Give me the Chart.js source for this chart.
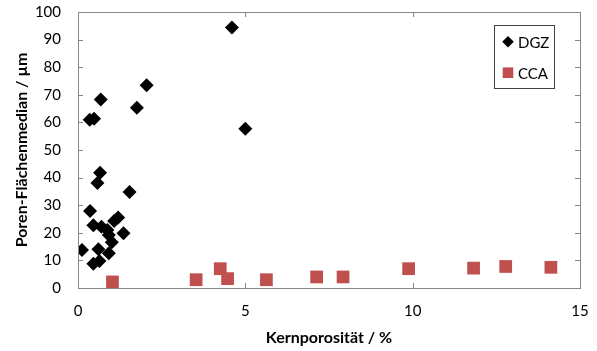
<!DOCTYPE html>
<html>
<head>
<meta charset="utf-8">
<script src="https://cdn.jsdelivr.net/npm/chart.js@4"></script>
<style>
  html, body { margin: 0; padding: 0; background: #fff; }
  #wrap { width: 597px; height: 351px; }
</style>
</head>
<body>
<div id="wrap"><canvas id="chart" width="597" height="351"></canvas></div>
<script>
// Kernporosität (%) / Poren-Flächenmedian (µm)
const dgzX = [4.6, 2.05, 0.68, 1.76, 0.35, 0.48, 5.0, 0.66, 0.58, 1.54, 0.36, 1.2, 1.08, 0.46, 0.7, 0.88, 0.92, 1.36, 1.01, 0.12, 0.61, 0.92, 0.46, 0.64];
const dgzY = [94.4, 73.5, 68.3, 65.3, 61.0, 61.3, 57.7, 41.8, 38.0, 34.8, 27.9, 25.5, 24.3, 22.7, 22.2, 21.0, 19.2, 19.8, 16.6, 13.8, 14.0, 12.6, 8.8, 9.8];
const ccaX = [1.03, 3.53, 4.25, 4.47, 5.63, 7.13, 7.92, 9.88, 11.82, 12.78, 14.13];
const ccaY = [2.2, 3.0, 7.0, 3.4, 3.0, 4.0, 4.0, 7.0, 7.2, 7.8, 7.5];

const xTicks = [0, 5, 10, 15];
const yTicks = [0, 10, 20, 30, 40, 50, 60, 70, 80, 90, 100];

const FONT = 'Lato, "Open Sans", sans-serif';
const AXIS_GRAY = '#868686';

function toPoints(xs, ys) {
  return xs.map((x, i) => ({ x: x, y: ys[i] }));
}

// Rahmen mit Innenstrichen + Legende im Diagramm
const framePlugin = {
  id: 'frame',
  afterDraw(chart) {
    const ctx = chart.ctx;
    const a = chart.chartArea;
    const sx = chart.scales.x, sy = chart.scales.y;
    ctx.save();
    ctx.strokeStyle = AXIS_GRAY;
    ctx.lineWidth = 1;
    ctx.strokeRect(Math.round(a.left) + 0.5, Math.round(a.top) + 0.5,
      Math.round(a.right - a.left), Math.round(a.bottom - a.top));
    ctx.beginPath();
    const t = 5;
    yTicks.forEach(v => {
      const py = Math.round(sy.getPixelForValue(v)) + 0.5;
      ctx.moveTo(a.left, py); ctx.lineTo(a.left + t, py);
      ctx.moveTo(a.right, py); ctx.lineTo(a.right - t, py);
    });
    xTicks.forEach(v => {
      const px = Math.round(sx.getPixelForValue(v)) + 0.5;
      ctx.moveTo(px, a.bottom); ctx.lineTo(px, a.bottom - t);
      ctx.moveTo(px, a.top); ctx.lineTo(px, a.top + t);
    });
    ctx.stroke();

    // Legende
    const bx = 494.5, by = 25.5, bw = 60, bh = 63;
    ctx.fillStyle = '#fff';
    ctx.fillRect(bx, by, bw, bh);
    ctx.strokeStyle = '#404040';
    ctx.strokeRect(bx, by, bw, bh);
    const items = chart.data.datasets;
    const rows = [41.7, 72.7];
    ctx.font = '15px ' + FONT;
    ctx.textBaseline = 'middle';
    ctx.textAlign = 'left';
    items.forEach((ds, i) => {
      ctx.fillStyle = ds.backgroundColor;
      ctx.strokeStyle = ds.backgroundColor;
      Chart.helpers.drawPoint(ctx, {
        pointStyle: ds.pointStyle,
        radius: ds.pointStyle === 'rect' ? 7.5 : 5.8,
        rotation: 0,
        borderWidth: 0
      }, 508, rows[i]);
      ctx.fillStyle = '#000';
      ctx.fillText(ds.label, 518, rows[i] + 1);
    });
    ctx.restore();
  }
};

new Chart(document.getElementById('chart'), {
  type: 'scatter',
  data: {
    datasets: [
      {
        label: 'DGZ',
        data: toPoints(dgzX, dgzY),
        pointStyle: 'rectRot',
        pointRadius: 7,
        pointHoverRadius: 7,
        backgroundColor: '#000000',
        borderColor: '#000000',
        borderWidth: 0
      },
      {
        label: 'CCA',
        data: toPoints(ccaX, ccaY),
        pointStyle: 'rect',
        pointRadius: 9,
        pointHoverRadius: 9,
        backgroundColor: '#C0504D',
        borderColor: '#C0504D',
        borderWidth: 0
      }
    ]
  },
  options: {
    responsive: false,
    animation: false,
    layout: { padding: { left: 10, right: 17, top: 12, bottom: 0 } },
    plugins: {
      legend: { display: false },
      tooltip: { enabled: false }
    },
    scales: {
      x: {
        type: 'linear',
        min: 0, max: 15,
        afterBuildTicks(scale) { scale.ticks = xTicks.map(v => ({ value: v })); },
        afterFit(scale) { scale.height = 63; },
        grid: { display: true, drawOnChartArea: false, drawTicks: true, tickLength: 12, tickColor: 'rgba(0,0,0,0)' },
        border: { display: false },
        ticks: { color: '#000', font: { family: FONT, size: 15 }, padding: 2 },
        title: {
          display: true,
          text: 'Kernporosität / %',
          color: '#000',
          font: { family: FONT, size: 16, weight: 'bold' },
          padding: { top: 5 }
        }
      },
      y: {
        type: 'linear',
        min: 0, max: 100,
        afterBuildTicks(scale) { scale.ticks = yTicks.map(v => ({ value: v })); },
        afterFit(scale) { scale.width = 68; },
        grid: { display: true, drawOnChartArea: false, drawTicks: true, tickLength: 15, tickColor: 'rgba(0,0,0,0)' },
        border: { display: false },
        ticks: { color: '#000', font: { family: FONT, size: 15 }, padding: 2 },
        title: {
          display: true,
          text: 'Poren-Flächenmedian / µm',
          color: '#000',
          font: { family: FONT, size: 16, weight: 'bold' },
          padding: { top: 2, bottom: 0 }
        }
      }
    }
  },
  plugins: [framePlugin]
});
</script>
</body>
</html>
